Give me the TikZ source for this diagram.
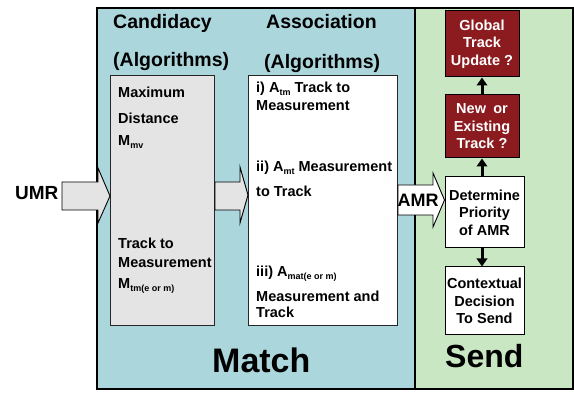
\documentclass[tikz,border=0pt]{standalone}
\usepackage{fontspec}
\setmainfont{Liberation Sans}
\usetikzlibrary{calc,arrows.meta}

\definecolor{matchbg}{HTML}{AAD6DC}
\definecolor{sendbg}{HTML}{C9E7C3}
\definecolor{boxgray}{HTML}{E4E4E4}
\definecolor{decred}{HTML}{8C1B1F}

% bold text at a given size and leading
\newcommand{\bsize}[2]{\fontsize{#1}{#2}\selectfont\bfseries}
% lowered index after a symbol letter
\newcommand{\lowidx}[1]{\raisebox{-0.35ex}{\fontsize{9}{9}\selectfont\bfseries #1}}

\begin{document}
\begin{tikzpicture}[x=1pt,y=-1pt,
  panelframe/.style={draw=black, line width=1.3pt},
  algobox/.style={draw=black!85, line width=1pt, anchor=north west, inner sep=0pt},
  graybox/.style={algobox, fill=boxgray},
  whitebox/.style={algobox, fill=white},
  heading/.style={font=\bsize{19.5}{20}, anchor=base west, inner sep=0pt},
  itemtext/.style={font=\bsize{14.5}{16}, anchor=base west, inner sep=0pt},
  bigtitle/.style={font=\bsize{34}{36}, anchor=base west, inner sep=0pt},
  sideflow/.style={draw=black, line width=1pt, align=center, inner sep=0pt,
                   font=\bsize{14.5}{17.5}},
  decision/.style={sideflow, fill=decred, text=white, minimum width=74, minimum height=66},
  stepbox/.style={sideflow, fill=white, minimum width=79},
  flow/.style={line width=3pt, -{Triangle[width=10.5pt,length=8pt]}},
  blockarrow/.style={draw=black, line width=0.9pt, fill=boxgray, line join=miter},
]
\useasboundingbox (0,0) rectangle (574,393);

% the two stage panels
\fill[matchbg] (97,8) rectangle (415,389);
\fill[sendbg] (415,8) rectangle (573,389);
\draw[panelframe] (97,8) rectangle (573,389);
\draw[line width=1.6pt] (415,8) -- (415,389);

% column headings
\node[heading] (candh) at (113,29) {Candidacy};
\node[heading] (candalg) at (113,67) {(Algorithms)};
\node[heading] (assoch) at (266,29) {Association};
\node[heading] (assocalg) at (264,69) {(Algorithms)};

% algorithm boxes
\node[graybox, minimum width=104, minimum height=250] (cand) at (110,75) {};
\node[whitebox, minimum width=149, minimum height=250] (assoc) at (248,75) {};

% candidacy algorithms
\node[itemtext] (c1) at (118,98) {Maximum};
\node[itemtext] (c2) at (118,124) {Distance};
\node[itemtext] (c3) at (118,146) {M\lowidx{mv}};
\node[itemtext] (c4) at (118,249) {Track to};
\node[itemtext] (c5) at (118,268) {Measurement};
\node[itemtext] (c6) at (118,289) {M\lowidx{tm(e or m)}};

% association algorithms
\node[itemtext] (a1) at (256,93) {i) A\lowidx{tm} Track to};
\node[itemtext] (a2) at (256,111) {Measurement};
\node[itemtext] (a3) at (256,172) {ii) A\lowidx{mt} Measurement};
\node[itemtext] (a4) at (256,197) {to Track};
\node[itemtext] (a5) at (256,277) {iii) A\lowidx{mat(e or m)}};
\node[itemtext] (a6) at (256,302) {Measurement and};
\node[itemtext] (a7) at (256,318) {Track};

% stage titles
\node[bigtitle] (match) at (212,373) {Match};
\node[bigtitle, font=\bsize{32}{34}] (send) at (445,368) {Send};

% send-stage flow
\node[decision] (glob) at (482,44) {Global\\Track\\Update ?};
\node[decision, minimum height=63] (newtr) at (482,126.5) {New\enspace or\\Existing\\Track ?};
\node[stepbox, minimum height=71] (prio) at (484.5,212.5) {Determine\\Priority\\of AMR};
\node[stepbox, minimum height=68] (ctx) at (484.5,301) {Contextual\\Decision\\To Send};

\draw[flow] (prio.north -| newtr.south) -- (newtr.south);
\draw[flow] (newtr.north) -- (glob.south);
\draw[flow] (prio.south -| newtr.south) -- (ctx.north -| newtr.south);

% incoming and passing block arrows
\node[font=\bsize{19}{20}, anchor=base west, inner sep=0pt] (umr) at (15,200) {UMR};
\coordinate (umrtip) at (cand.west |- 0,196);
\draw[blockarrow] (62,182) -- (98,182) -- (98,168) -- (umrtip)
  -- (98,223) -- (98,210) -- (62,210) -- cycle;

\coordinate (passtip) at (assoc.west |- 0,195);
\draw[blockarrow] (cand.east |- 0,182) -- (240,182) -- (240,167) -- (passtip)
  -- (240,223) -- (240,210) -- (cand.east |- 0,210) -- cycle;

\coordinate (amrtip) at (prio.west |- 0,200);
\draw[blockarrow, fill=white] (assoc.east |- 0,185) -- (433,185) -- (433,173) -- (amrtip)
  -- (433,227) -- (433,215) -- (assoc.east |- 0,215) -- cycle;
\node[font=\bsize{18}{20}, anchor=base west, inner sep=0pt] (amr) at (397.5,207) {AMR};
\end{tikzpicture}
\end{document}
